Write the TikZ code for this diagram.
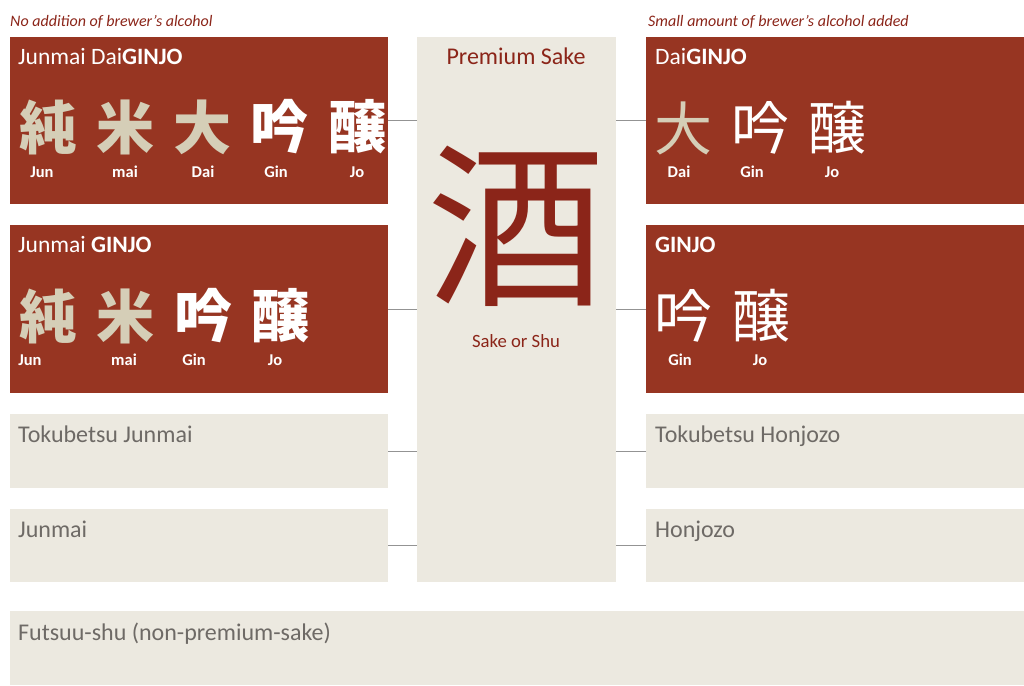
\documentclass[tikz,border=0pt]{standalone}
\usepackage{fontspec}
\setmainfont{Carlito}
\newfontfamily\jp{Noto Sans CJK JP}
\definecolor{sakered}{RGB}{151,53,34}
\definecolor{sakebeige}{RGB}{236,233,224}
\definecolor{kanjibeige}{RGB}{213,206,183}
\definecolor{darkred}{RGB}{139,37,25}
\definecolor{greytext}{RGB}{110,106,102}
\tikzset{
  redbox/.style={rectangle,fill=sakered,anchor=north west,inner sep=0pt},
  beigebox/.style={rectangle,fill=sakebeige,anchor=north west,inner sep=0pt},
  title/.style={anchor=base west,inner sep=0pt,text=white,font=\fontsize{23.5}{27}\selectfont},
  grade/.style={anchor=base west,inner sep=0pt,text=greytext,font=\fontsize{24}{28}\selectfont},
  kanji/.style={inner sep=0pt,font=\jp\fontsize{58}{58}\selectfont},
  kanjibold/.style={inner sep=0pt,font=\jp\bfseries\fontsize{58}{58}\selectfont},
  reading/.style={anchor=base,inner sep=0pt,text=white,font=\bfseries\fontsize{16.5}{19}\selectfont},
  note/.style={anchor=base west,inner sep=0pt,text=darkred,font=\itshape\fontsize{16}{19}\selectfont},
  link/.style={draw=gray!85,line width=1.3pt}
}
\begin{document}
\begin{tikzpicture}[x=1pt,y=-1pt]
    \useasboundingbox (0,0) rectangle (1024,685);
    % boxes
    \node[redbox,minimum width=378,minimum height=167] (jdg) at (10,37) {};
    \node[redbox,minimum width=378,minimum height=168] (jg) at (10,225) {};
    \node[beigebox,minimum width=378,minimum height=74] (tj) at (10,414) {};
    \node[beigebox,minimum width=378,minimum height=73] (jm) at (10,509) {};
    \node[beigebox,minimum width=199,minimum height=545] (prem) at (417,37) {};
    \node[redbox,minimum width=378,minimum height=167] (dg) at (646,37) {};
    \node[redbox,minimum width=378,minimum height=168] (gj) at (646,225) {};
    \node[beigebox,minimum width=378,minimum height=74] (th) at (646,414) {};
    \node[beigebox,minimum width=378,minimum height=73] (hj) at (646,509) {};
    \node[beigebox,minimum width=1014,minimum height=74] (fs) at (10,611) {};
    % notes
    \node[note] (nonote) at (10,27) {No addition of brewer’s alcohol};
    \node[note] (smnote) at (648,27) {Small amount of brewer’s alcohol added};
    % titles
    \node[title] (jdgt) at (18,64) {Junmai Dai\textbf{GINJO}};
    \node[title] (jgt) at (18,252) {Junmai \textbf{GINJO}};
    \node[title] (dgt) at (655,64) {Dai\textbf{GINJO}};
    \node[title] (gjt) at (655,252) {\textbf{GINJO}};
    \node[grade] (tjt) at (18,442) {Tokubetsu Junmai};
    \node[grade] (jmt) at (18,537) {Junmai};
    \node[grade] (tht) at (655,442) {Tokubetsu Honjozo};
    \node[grade] (hjt) at (655,537) {Honjozo};
    \node[grade] (fst) at (18,640) {Futsuu-shu (non-premium-sake)};
    % premium sake
    \node[anchor=base,inner sep=0pt,text=darkred,font=\fontsize{24}{28}\selectfont] (premt) at (516,64) {Premium Sake};
    \node[text=darkred,font=\jp\fontsize{178}{178}\selectfont,inner sep=0pt] (sake) at (516,226) {酒};
    \node[anchor=base,inner sep=0pt,text=darkred,font=\fontsize{18.7}{22}\selectfont] (saket) at (516,347) {Sake or Shu};
    % kanji
    \begin{scope}[every node/.append style={kanjibold}]
        \node[text=kanjibeige] (k1) at (48,127) {純};
        \node[text=kanjibeige] (k2) at (125,127) {米};
        \node[text=kanjibeige] (k3) at (202,127) {大};
        \node[text=white] (k4) at (279,127) {吟};
        \node[text=white] (k5) at (357,127) {醸};
        \node[text=kanjibeige] (m1) at (48,316) {純};
        \node[text=kanjibeige] (m2) at (125,316) {米};
        \node[text=white] (m3) at (203,316) {吟};
        \node[text=white] (m4) at (280,316) {醸};
    \end{scope}
    \begin{scope}[every node/.append style={kanji}]
        \node[text=kanjibeige] (r1) at (683,128) {大};
        \node[text=white] (r2) at (760,128) {吟};
        \node[text=white] (r3) at (837,128) {醸};
        \node[text=white] (s1) at (683,316) {吟};
        \node[text=white] (s2) at (761,316) {醸};
    \end{scope}
    % readings
    \begin{scope}[every node/.append style={reading}]
        \node at (42,177) {Jun};
        \node at (125,177) {mai};
        \node at (203,177) {Dai};
        \node at (276,177) {Gin};
        \node at (357,177) {Jo};
        \node at (30,365) {Jun};
        \node at (124,365) {mai};
        \node at (194,365) {Gin};
        \node at (275,365) {Jo};
        \node at (679,177) {Dai};
        \node at (752,177) {Gin};
        \node at (832,177) {Jo};
        \node at (680,365) {Gin};
        \node at (760,365) {Jo};
    \end{scope}
    % links
    \begin{scope}[every edge/.style={link}]
        \path
            (jdg.east) edge (prem.west |- jdg.east)
            (jg.east) edge (prem.west |- jg.east)
            (tj.east) edge (prem.west |- tj.east)
            (jm.east) edge (prem.west |- jm.east)
            (dg.west) edge (prem.east |- dg.west)
            (gj.west) edge (prem.east |- gj.west)
            (th.west) edge (prem.east |- th.west)
            (hj.west) edge (prem.east |- hj.west);
    \end{scope}
\end{tikzpicture}
\end{document}
